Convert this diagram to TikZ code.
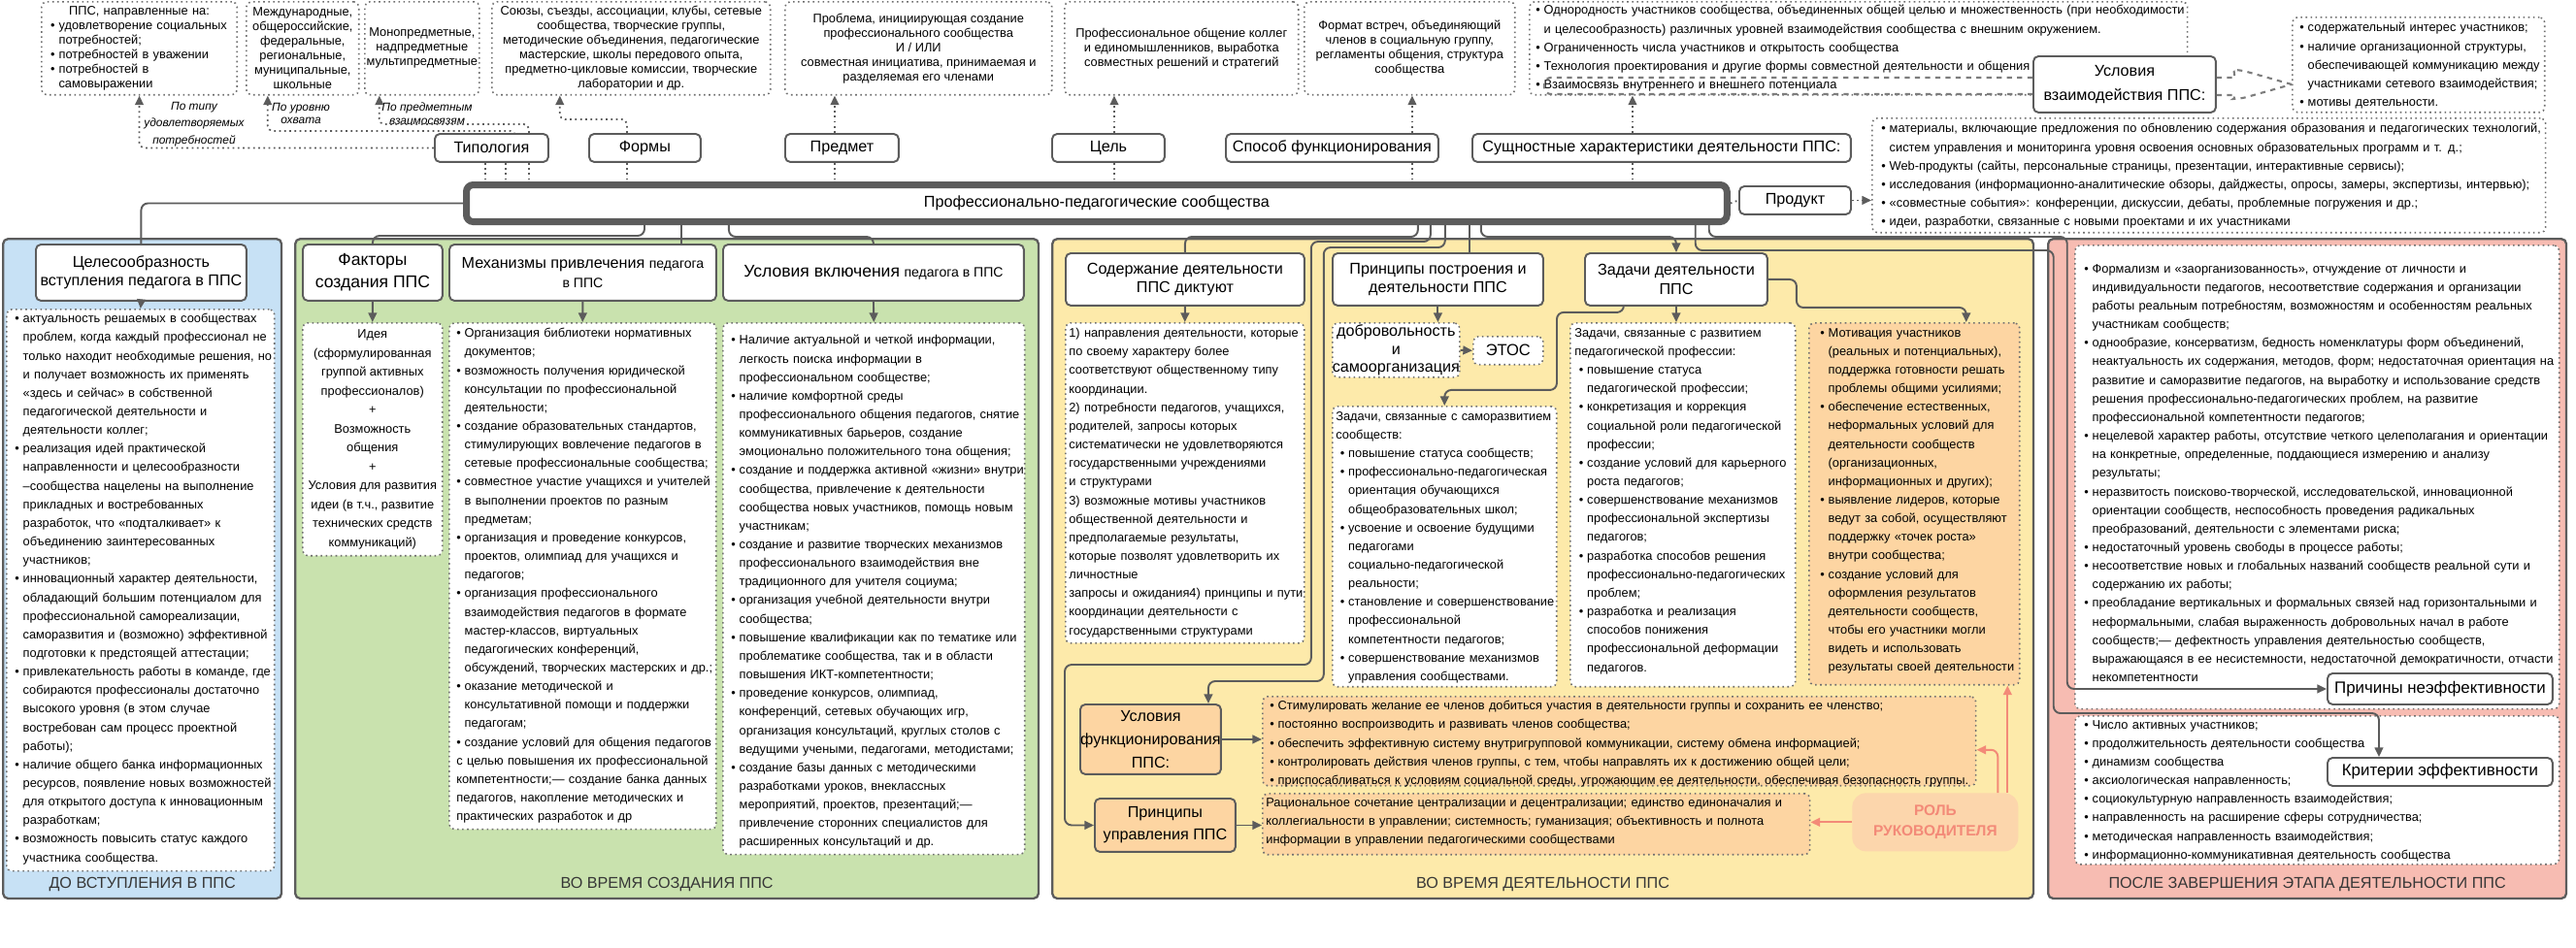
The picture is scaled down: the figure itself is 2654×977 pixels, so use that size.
\documentclass[tikz,border=0pt]{standalone}
\usepackage{fontspec}
\setmainfont{Liberation Sans}
\usetikzlibrary{arrows.meta, positioning}

\definecolor{edge}{RGB}{92,92,92}
\definecolor{dotedge}{RGB}{112,112,112}
\definecolor{bluebg}{RGB}{199,225,245}
\definecolor{greenbg}{RGB}{201,226,174}
\definecolor{yellowbg}{RGB}{253,234,170}
\definecolor{pinkbg}{RGB}{247,188,178}
\definecolor{orangebg}{RGB}{253,213,162}
\definecolor{rolebg}{RGB}{252,214,172}
\definecolor{rolered}{RGB}{243,138,120}
\definecolor{captext}{RGB}{55,55,55}

\newcommand{\lstfont}{\fontsize{7.3}{10.9}\selectfont}
\newcommand{\topfont}{\fontsize{7.3}{8.5}\selectfont}
\newcommand{\hdfont}{\fontsize{9.2}{11}\selectfont}
\newcommand{\bigfont}{\fontsize{10}{13}\selectfont}
\newcommand{\smfont}{\fontsize{8}{11}\selectfont}
\newcommand{\bul}{\makebox[0.65em][l]{•}}
\newcommand{\hng}{\hspace*{0.65em}}
\newcommand{\ibul}{\hspace*{0.35em}\bul}
\newcommand{\ihng}{\hspace*{1em}}
\setlength{\parindent}{0pt}

\tikzset{
  panel/.style={draw=edge, line width=1.3pt, rounded corners=3pt, anchor=north west, inner sep=0pt},
  hdbox/.style={draw=edge, line width=1.1pt, fill=white, rounded corners=3pt,
    anchor=north west, align=center, inner sep=1pt, font=\hdfont},
  topbox/.style={draw=dotedge, dotted, line width=0.9pt, fill=white, rounded corners=3pt,
    anchor=north west, align=center, inner sep=1pt, font=\topfont},
  lstbox/.style={draw=dotedge, dotted, line width=0.9pt, fill=white, rounded corners=3pt,
    anchor=north west, inner sep=0pt},
  lsttext/.style={anchor=north west, inner sep=0pt, align=left, font=\lstfont},
  caption/.style={font=\hdfont, text=captext, inner sep=0pt},
  hint/.style={font=\fontsize{6.8}{9.9}\selectfont\itshape, align=center, inner sep=0pt},
  link/.style={draw=edge, line width=1.1pt, rounded corners=4pt},
  arr/.style={link, -{Triangle[length=5.5pt, width=5pt]}},
  dotlink/.style={draw=edge, dotted, line width=1pt, rounded corners=3pt},
  dotarr/.style={dotlink, -{Triangle[length=5.5pt, width=5pt]}},
  dashlink/.style={draw=edge!80, dashed, line width=1.2pt, rounded corners=4pt},
  rolearr/.style={draw=rolered, line width=1.1pt, rounded corners=4pt, -{Triangle[length=5.5pt, width=5pt]}}
}

\begin{document}
\begin{tikzpicture}[x=0.02cm, y=-0.02cm]
  \useasboundingbox (0,0) rectangle (2654,977);

  % Этапы (фон)
  \node[panel, fill=bluebg, minimum width=5.74cm, minimum height=13.6cm] (stage1) at (2,245) {};
  \node[panel, fill=greenbg, minimum width=15.32cm, minimum height=13.6cm] (stage2) at (303,245) {};
  \node[panel, fill=yellowbg, minimum width=20.22cm, minimum height=13.6cm] (stage3) at (1083,245) {};
  \node[panel, fill=pinkbg, minimum width=10.68cm, minimum height=13.6cm] (stage4) at (2109,245) {};
  \node[caption, above=0.17cm of stage1.south] (cap1) {ДО ВСТУПЛЕНИЯ В ППС};
  \node[caption, above=0.17cm of stage2.south] (cap2) {ВО ВРЕМЯ СОЗДАНИЯ ППС};
  \node[caption, above=0.17cm of stage3.south] (cap3) {ВО ВРЕМЯ ДЕЯТЕЛЬНОСТИ ППС};
  \node[caption, above=0.17cm of stage4.south] (cap4) {ПОСЛЕ ЗАВЕРШЕНИЯ ЭТАПА ДЕЯТЕЛЬНОСТИ ППС};

  % Верхний ряд
  \node[topbox, align=left, text width=3.96cm, minimum height=1.92cm] (need) at (42,1)
    {\makebox[\hsize][c]{ППС, направленные на:}\\
     \hspace*{0.6em}\bul удовлетворение социальных\\
     \hspace*{1.25em}потребностей;\\
     \hspace*{0.6em}\bul потребностей в уважении\\
     \hspace*{0.6em}\bul потребностей в\\
     \hspace*{1.25em}самовыражении};
  \node[topbox, minimum width=2.32cm, minimum height=1.92cm] (reach) at (253,1)
    {Международные,\\общероссийские,\\федеральные,\\региональные,\\муниципальные,\\школьные};
  \node[topbox, minimum width=2.34cm, minimum height=1.92cm] (links) at (375,1)
    {Монопредметные,\\надпредметные\\мультипредметные};
  \node[topbox, minimum width=5.74cm, minimum height=1.92cm] (formlist) at (506,1)
    {Союзы, съезды, ассоциации, клубы, сетевые\\сообщества, творческие группы,\\методические объединения, педагогические\\мастерские, школы передового опыта,\\предметно-цикловые комиссии, творческие\\лаборатории и др.};
  \node[topbox, minimum width=5.5cm, minimum height=1.92cm] (problem) at (808,1)
    {Проблема, инициирующая создание\\профессионального сообщества\\И / ИЛИ\\совместная инициатива, принимаемая и\\разделяемая его членами};
  \node[topbox, minimum width=4.82cm, minimum height=1.92cm] (purpose) at (1096,1)
    {Профессиональное общение коллег\\и единомышленников, выработка\\совместных решений и стратегий};
  \node[topbox, minimum width=4.34cm, minimum height=1.92cm] (format) at (1343,1)
    {Формат встреч, объединяющий\\членов в социальную группу,\\регламенты общения, структура\\сообщества};
  \node[lstbox, minimum width=13.56cm, minimum height=1.92cm] (essence) at (1575,1) {};
  \node[lsttext, text width=13.6cm] (essenceT) at ([shift={(7,4)}]essence.north west)
    {\bul Однородность участников сообщества, объединенных общей целью и множественность (при необходимости\\
     \hng и целесообразность) различных уровней взаимодействия сообщества с внешним окружением.\\
     \bul Ограниченность числа участников и открытость сообщества\\
     \bul Технология проектирования и другие формы совместной деятельности и общения\\
     \bul Взаимосвязь внутреннего и внешнего потенциала};
  \node[hdbox, font=\fontsize{9.2}{14}\selectfont, minimum width=3.76cm, minimum height=1.16cm] (interact) at (2094,57)
    {Условия\\взаимодействия ППС:};
  \node[lstbox, minimum width=5.2cm, minimum height=1.96cm] (intlist) at (2361,17) {};
  \node[lsttext, text width=5.3cm] (intlistT) at ([shift={(8,6)}]intlist.north west)
    {\bul содержательный интерес участников;\\
     \bul наличие организационной структуры,\\
     \hng обеспечивающей коммуникацию между\\
     \hng участниками сетевого взаимодействия;\\
     \bul мотивы деятельности.};

  % Подписи-признаки
  \node[hdbox, minimum width=2.34cm, minimum height=0.58cm] (typ) at (447,137) {Типология};
  \node[hdbox, minimum width=2.3cm, minimum height=0.58cm] (form) at (606,137) {Формы};
  \node[hdbox, minimum width=2.34cm, minimum height=0.58cm] (subj) at (808,137) {Предмет};
  \node[hdbox, minimum width=2.32cm, minimum height=0.58cm] (goal) at (1083,137) {Цель};
  \node[hdbox, minimum width=4.38cm, minimum height=0.58cm] (way) at (1262,137) {Способ функционирования};
  \node[hdbox, minimum width=7.8cm, minimum height=0.58cm] (feat) at (1516,137) {Сущностные характеристики деятельности ППС:};
  \node[hint] (hint1) at (200,128) {По типу\\удовлетворяемых\\потребностей};
  \node[hint, font=\fontsize{6.8}{7.9}\selectfont\itshape] (hint2) at (310,117) {По уровню\\охвата};
  \node[hint, font=\fontsize{6.8}{7.9}\selectfont\itshape] (hint3) at (440,117) {По предметным\\взаимосвязям};

  % Центр и продукт
  \node[draw=edge, line width=4pt, fill=white, rounded corners=4pt, anchor=north west,
    minimum width=25.98cm, minimum height=0.76cm, font=\hdfont] (pps) at (477,187)
    {Профессионально-педагогические сообщества};
  \node[hdbox, minimum width=2.3cm, minimum height=0.58cm] (prod) at (1791,191) {Продукт};
  \node[lstbox, minimum width=13.88cm, minimum height=2.36cm] (prodlist) at (1928,121) {};
  \node[lsttext, text width=13.9cm] (prodlistT) at ([shift={(10,6)}]prodlist.north west)
    {\bul материалы, включающие предложения по обновлению содержания образования и педагогических технологий,\\
     \hng систем управления и мониторинга уровня освоения основных образовательных программ и т. д.;\\
     \bul Web-продукты (сайты, персональные страницы, презентации, интерактивные сервисы);\\
     \bul исследования (информационно-аналитические обзоры, дайджесты, опросы, замеры, экспертизы, интервью);\\
     \bul «совместные события»: конференции, дискуссии, дебаты, проблемные погружения и др.;\\
     \bul идеи, разработки, связанные с новыми проектами и их участниками};

  % До вступления
  \node[hdbox, minimum width=4.34cm, minimum height=1.16cm] (aim) at (36,251)
    {Целесообразность\\вступления педагога в ППС};
  \node[lstbox, minimum width=5.52cm, minimum height=11.58cm] (aimlist) at (6,318) {};
  \node[lsttext, text width=5.6cm] (aimlistT) at ([shift={(9,5)}]aimlist.north west)
    {\bul актуальность решаемых в сообществах\\
     \hng проблем, когда каждый профессионал не\\
     \hng только находит необходимые решения, но\\
     \hng и получает возможность их применять\\
     \hng «здесь и сейчас» в собственной\\
     \hng педагогической деятельности и\\
     \hng деятельности коллег;\\
     \bul реализация идей практической\\
     \hng направленности и целесообразности\\
     \hng –сообщества нацелены на выполнение\\
     \hng прикладных и востребованных\\
     \hng разработок, что «подталкивает» к\\
     \hng объединению заинтересованных\\
     \hng участников;\\
     \bul инновационный характер деятельности,\\
     \hng обладающий большим потенциалом для\\
     \hng профессиональной самореализации,\\
     \hng саморазвития и (возможно) эффективной\\
     \hng подготовки к предстоящей аттестации;\\
     \bul привлекательность работы в команде, где\\
     \hng собираются профессионалы достаточно\\
     \hng высокого уровня (в этом случае\\
     \hng востребован сам процесс проектной\\
     \hng работы);\\
     \bul наличие общего банка информационных\\
     \hng ресурсов, появление новых возможностей\\
     \hng для открытого доступа к инновационным\\
     \hng разработкам;\\
     \bul возможность повысить статус каждого\\
     \hng участника сообщества.};

  % Во время создания
  \node[hdbox, font=\bigfont, minimum width=2.88cm, minimum height=1.16cm] (factor) at (311,251)
    {Факторы\\создания ППС};
  \node[hdbox, minimum width=5.5cm, minimum height=1.16cm] (mech) at (462,251)
    {Механизмы привлечения {\smfont педагога}\\{\smfont в ППС}};
  \node[hdbox, minimum width=6.2cm, minimum height=1.16cm] (incl) at (744,251)
    {{\bigfont Условия включения} {\smfont педагога в ППС}};
  \node[topbox, font=\fontsize{7.3}{11.1}\selectfont, minimum width=2.88cm, minimum height=4.8cm] (idea) at (311,332)
    {Идея\\(сформулированная\\группой активных\\профессионалов)\\+\\Возможность\\общения\\+\\Условия для развития\\идеи (в т.ч., развитие\\технических средств\\коммуникаций)};
  \node[lstbox, minimum width=5.5cm, minimum height=10.44cm] (mechlist) at (462,332) {};
  \node[lsttext, text width=5.6cm] (mechlistT) at ([shift={(8,6)}]mechlist.north west)
    {\bul Организация библиотеки нормативных\\
     \hng документов;\\
     \bul возможность получения юридической\\
     \hng консультации по профессиональной\\
     \hng деятельности;\\
     \bul создание образовательных стандартов,\\
     \hng стимулирующих вовлечение педагогов в\\
     \hng сетевые профессиональные сообщества;\\
     \bul совместное участие учащихся и учителей\\
     \hng в выполнении проектов по разным\\
     \hng предметам;\\
     \bul организация и проведение конкурсов,\\
     \hng проектов, олимпиад для учащихся и\\
     \hng педагогов;\\
     \bul организация профессионального\\
     \hng взаимодействия педагогов в формате\\
     \hng мастер-классов, виртуальных\\
     \hng педагогических конференций,\\
     \hng обсуждений, творческих мастерских и др.;\\
     \bul оказание методической и\\
     \hng консультативной помощи и поддержки\\
     \hng педагогам;\\
     \bul создание условий для общения педагогов\\
     с целью повышения их профессиональной\\
     компетентности;— создание банка данных\\
     педагогов, накопление методических и\\
     практических разработок и др};
  \node[lstbox, minimum width=6.22cm, minimum height=10.96cm] (incllist) at (744,332) {};
  \node[lsttext, text width=6.3cm] (incllistT) at ([shift={(9,13)}]incllist.north west)
    {\bul Наличие актуальной и четкой информации,\\
     \hng легкость поиска информации в\\
     \hng профессиональном сообществе;\\
     \bul наличие комфортной среды\\
     \hng профессионального общения педагогов, снятие\\
     \hng коммуникативных барьеров, создание\\
     \hng эмоционально положительного тона общения;\\
     \bul создание и поддержка активной «жизни» внутри\\
     \hng сообщества, привлечение к деятельности\\
     \hng сообщества новых участников, помощь новым\\
     \hng участникам;\\
     \bul создание и развитие творческих механизмов\\
     \hng профессионального взаимодействия вне\\
     \hng традиционного для учителя социума;\\
     \bul организация учебной деятельности внутри\\
     \hng сообщества;\\
     \bul повышение квалификации как по тематике или\\
     \hng проблематике сообщества, так и в области\\
     \hng повышения ИКТ-компетентности;\\
     \bul проведение конкурсов, олимпиад,\\
     \hng конференций, сетевых обучающих игр,\\
     \hng организация консультаций, круглых столов с\\
     \hng ведущими учеными, педагогами, методистами;\\
     \bul создание базы данных с методическими\\
     \hng разработками уроков, внеклассных\\
     \hng мероприятий, проектов, презентаций;—\\
     \hng привлечение сторонних специалистов для\\
     \hng расширенных консультаций и др.};

  % Во время деятельности
  \node[hdbox, minimum width=4.92cm, minimum height=1.08cm] (sod) at (1097,260)
    {Содержание деятельности\\ППС диктуют};
  \node[lstbox, minimum width=4.92cm, minimum height=6.6cm] (sodlist) at (1097,332) {};
  \node[lsttext, text width=5cm] (sodlistT) at ([shift={(4,6)}]sodlist.north west)
    {1) направления деятельности, которые\\
     по своему характеру более\\
     соответствуют общественному типу\\
     координации.\\
     2) потребности педагогов, учащихся,\\
     родителей, запросы которых\\
     систематически не удовлетворяются\\
     государственными учреждениями\\
     и структурами\\
     3) возможные мотивы участников\\
     общественной деятельности и\\
     предполагаемые результаты,\\
     которые позволят удовлетворить их\\
     личностные\\
     запросы и ожидания4) принципы и пути\\
     координации деятельности с\\
     государственными структурами};
  \node[hdbox, minimum width=4.34cm, minimum height=1.08cm] (pb) at (1372,260)
    {Принципы построения и\\деятельности ППС};
  \node[topbox, font=\fontsize{9.2}{10.5}\selectfont, inner sep=0pt, minimum width=2.6cm, minimum height=1.12cm] (dob) at (1372,332)
    {добровольность\\и\\самоорганизация};
  \node[topbox, font=\fontsize{9.4}{11}\selectfont, minimum width=1.44cm, minimum height=0.58cm] (etos) at (1517,346) {ЭТОС};
  \node[lstbox, minimum width=4.62cm, minimum height=5.78cm] (self) at (1372,418) {};
  \node[lsttext, text width=4.7cm] (selfT) at ([shift={(4,6)}]self.north west)
    {Задачи, связанные с саморазвитием\\
     сообществ:\\
     \ibul повышение статуса сообществ;\\
     \ibul профессионально-педагогическая\\
     \ihng ориентация обучающихся\\
     \ihng общеобразовательных школ;\\
     \ibul усвоение и освоение будущими\\
     \ihng педагогами\\
     \ihng социально-педагогической\\
     \ihng реальности;\\
     \ibul становление и совершенствование\\
     \ihng профессиональной\\
     \ihng компетентности педагогов;\\
     \ibul совершенствование механизмов\\
     \ihng управления сообществами.};
  \node[hdbox, minimum width=3.76cm, minimum height=1.08cm] (zd) at (1632,260)
    {Задачи деятельности\\ППС};
  \node[lstbox, minimum width=4.64cm, minimum height=7.5cm] (tasks) at (1617,332) {};
  \node[lsttext, text width=4.7cm] (tasksT) at ([shift={(5,6)}]tasks.north west)
    {Задачи, связанные с развитием\\
     педагогической профессии:\\
     \ibul повышение статуса\\
     \ihng педагогической профессии;\\
     \ibul конкретизация и коррекция\\
     \ihng социальной роли педагогической\\
     \ihng профессии;\\
     \ibul создание условий для карьерного\\
     \ihng роста педагогов;\\
     \ibul совершенствование механизмов\\
     \ihng профессиональной экспертизы\\
     \ihng педагогов;\\
     \ibul разработка способов решения\\
     \ihng профессионально-педагогических\\
     \ihng проблем;\\
     \ibul разработка и реализация\\
     \ihng способов понижения\\
     \ihng профессиональной деформации\\
     \ihng педагогов.};
  \node[lstbox, fill=orangebg, minimum width=4.34cm, minimum height=7.46cm] (mot) at (1863,332) {};
  \node[lsttext, text width=4.4cm] (motT) at ([shift={(12,6)}]mot.north west)
    {\bul Мотивация участников\\
     \hng (реальных и потенциальных),\\
     \hng поддержка готовности решать\\
     \hng проблемы общими усилиями;\\
     \bul обеспечение естественных,\\
     \hng неформальных условий для\\
     \hng деятельности сообществ\\
     \hng (организационных,\\
     \hng информационных и других);\\
     \bul выявление лидеров, которые\\
     \hng ведут за собой, осуществляют\\
     \hng поддержку «точек роста»\\
     \hng внутри сообщества;\\
     \bul создание условий для\\
     \hng оформления результатов\\
     \hng деятельности сообществ,\\
     \hng чтобы его участники могли\\
     \hng видеть и использовать\\
     \hng результаты своей деятельности};
  \node[hdbox, fill=orangebg, inner sep=0pt, font=\fontsize{9.2}{13.6}\selectfont, minimum width=2.9cm, minimum height=1.44cm] (usf) at (1112,725)
    {Условия\\функционирования\\ППС:};
  \node[hdbox, fill=orangebg, font=\fontsize{9.2}{13}\selectfont, minimum width=2.9cm, minimum height=1.1cm] (pru) at (1127,822)
    {Принципы\\управления ППС};
  \node[lstbox, fill=orangebg, minimum width=14.7cm, minimum height=1.84cm] (l1) at (1300,717) {};
  \node[lsttext, text width=14.8cm] (l1T) at ([shift={(8,5)}]l1.north west)
    {\bul Стимулировать желание ее членов добиться участия в деятельности группы и сохранить ее членство;\\
     \bul постоянно воспроизводить и развивать членов сообщества;\\
     \bul обеспечить эффективную систему внутригрупповой коммуникации, систему обмена информацией;\\
     \bul контролировать действия членов группы, с тем, чтобы направлять их к достижению общей цели;\\
     \bul приспосабливаться к условиям социальной среды, угрожающим ее деятельности, обеспечивая безопасность группы.};
  \node[lstbox, fill=orangebg, minimum width=11.28cm, minimum height=1.26cm] (l2) at (1300,817) {};
  \node[lsttext, text width=11.3cm] (l2T) at ([shift={(4,5)}]l2.north west)
    {Рациональное сочетание централизации и децентрализации; единство единоначалия и\\
     коллегиальности в управлении; системность; гуманизация; объективность и полнота\\
     информации в управлении педагогическими сообществами};
  \node[fill=rolebg, rounded corners=8pt, anchor=north west, align=center, text=rolered,
    font=\fontsize{8.8}{12}\selectfont\bfseries, minimum width=3.42cm, minimum height=1.2cm] (role) at (1908,817)
    {РОЛЬ\\РУКОВОДИТЕЛЯ};

  % После завершения
  \node[lstbox, minimum width=9.98cm, minimum height=9.56cm] (ineff) at (2137,252) {};
  \node[lsttext, text width=10cm] (ineffT) at ([shift={(10,20)}]ineff.north west)
    {\bul Формализм и «заорганизованность», отчуждение от личности и\\
     \hng индивидуальности педагогов, несоответствие содержания и организации\\
     \hng работы реальным потребностям, возможностям и особенностям реальных\\
     \hng участникам сообществ;\\
     \bul однообразие, консерватизм, бедность номенклатуры форм объединений,\\
     \hng неактуальность их содержания, методов, форм; недостаточная ориентация на\\
     \hng развитие и саморазвитие педагогов, на выработку и использование средств\\
     \hng решения профессионально-педагогических проблем, на развитие\\
     \hng профессиональной компетентности педагогов;\\
     \bul нецелевой характер работы, отсутствие четкого целеполагания и ориентации\\
     \hng на конкретные, определенные, поддающиеся измерению и анализу\\
     \hng результаты;\\
     \bul неразвитость поисково-творческой, исследовательской, инновационной\\
     \hng ориентации сообществ, неспособность проведения радикальных\\
     \hng преобразований, деятельности с элементами риска;\\
     \bul недостаточный уровень свободы в процессе работы;\\
     \bul несоответствие новых и глобальных названий сообществ реальной сути и\\
     \hng содержанию их работы;\\
     \bul преобладание вертикальных и формальных связей над горизонтальными и\\
     \hng неформальными, слабая выраженность добровольных начал в работе\\
     \hng сообществ;— дефектность управления деятельностью сообществ,\\
     \hng выражающаяся в ее несистемности, недостаточной демократичности, отчасти\\
     \hng некомпетентности};
  \node[hdbox, font=\fontsize{9.6}{11}\selectfont, minimum width=4.64cm, minimum height=0.64cm] (prich) at (2397,693) {Причины неэффективности};
  \node[lstbox, minimum width=9.98cm, minimum height=3.06cm] (crit) at (2137,737) {};
  \node[lsttext, text width=10cm] (critT) at ([shift={(10,5)}]crit.north west)
    {\bul Число активных участников;\\
     \bul продолжительность деятельности сообщества\\
     \bul динамизм сообщества\\
     \bul аксиологическая направленность;\\
     \bul социокультурную направленность взаимодействия;\\
     \bul направленность на расширение сферы сотрудничества;\\
     \bul методическая направленность взаимодействия;\\
     \bul информационно-коммуникативная деятельность сообщества};
  \node[hdbox, font=\fontsize{9.6}{11}\selectfont, minimum width=4.64cm, minimum height=0.58cm] (krit) at (2397,780) {Критерии эффективности};

  % Связи верхнего ряда
  \draw[dotarr] (typ.west) -| (need.south);
  \draw[dotarr] ([xshift=0.49cm]typ.north) -- ++(0,-2) -| ([xshift=-0.72cm]reach.south);
  \draw[dotarr] ([xshift=0.77cm]typ.north) -- ++(0,-9) -| ([xshift=-0.88cm]links.south);
  \foreach \dx in {-0.13,0.29,0.77}
    \draw[dotlink] ([xshift=\dx cm]typ.south) -- ++(0,21);
  \draw[dotarr] ([xshift=-0.37cm]form.north) -- ++(0,-14) -| ([xshift=-1.47cm]formlist.south);
  \draw[dotlink] ([xshift=-0.37cm]form.south) -- ++(0,21);
  \foreach \lbl/\boxname/\dx in {subj/problem/-0.15, goal/purpose/0.12, way/format/1.65, feat/essence/-0.6} {
    \coordinate (up) at ([xshift=\dx cm]\lbl.north);
    \coordinate (dn) at ([xshift=\dx cm]\lbl.south);
    \draw[dotarr] (up) -- (up |- \boxname.south);
    \draw[dotlink] (dn) -- (dn |- pps.north);
  }
  \coordinate (brA) at (1591,80);
  \coordinate (brB) at (1591,97);
  \draw[dashlink] (interact.west |- brA) -- (brA) -- (brB) -- (interact.west |- brB);
  \coordinate (meet) at (intlist.west |- interact.east);
  \draw[dashlink] ([yshift=0.14cm]interact.east) -- ++(12,0) to[out=0, in=180] ++(12,-8) -- (meet);
  \draw[dashlink] ([yshift=-0.22cm]interact.east) -- ++(12,0) to[out=0, in=180] ++(12,4) -- (meet);
  \draw[dotlink] (pps.east) -- (prod.west);
  \draw[dotarr] (prod.east) -- (prod.east -| prodlist.west);

  % Связи с этапами
  \draw[link] (pps.west) -| (aim.north);
  \draw[arr] (aim.south) -- (aimlist.north);
  \draw[link] ([xshift=3.74cm]pps.south west) -- ++(0,11) -| (factor.north);
  \coordinate (m1) at ([xshift=4.5cm]pps.south west);
  \draw[link] (m1) -- (m1 |- mech.north);
  \draw[link] ([xshift=5.48cm]pps.south west) -- ++(0,12) -| (incl.north);
  \draw[arr] (factor.south) -- (idea.north);
  \draw[arr] (mech.south) -- (mechlist.north);
  \draw[arr] (incl.south) -- (incllist.north);
  \draw[link] ([xshift=19.68cm]pps.south west) -- ++(0,12) -| (sod.north);
  \draw[arr] ([xshift=19.94cm]pps.south west) -- ++(0,17) -- ++(-123,0) -- ++(0,436) -| ([xshift=-0.6cm]pru.west) -- (pru.west);
  \draw[arr] ([xshift=20.24cm]pps.south west) -- ++(0,23) -- ++(-125,0) -- ++(0,447) -| ([xshift=1.19cm]usf.north);
  \coordinate (p1) at ([xshift=20.74cm]pps.south west);
  \draw[link] (p1) -- (p1 |- pb.north);
  \draw[arr] ([xshift=20.98cm]pps.south west) -- ++(0,12) -| (zd.north);
  \draw[arr] ([xshift=25.4cm]pps.south west) -- ++(0,26) -- ++(369,0) -- ++(0,477) -| ([xshift=-1.26cm]krit.north);
  \draw[arr] ([xshift=25.68cm]pps.south west) -- ++(0,12) -- ++(369,0) |- (prich.west);

  % Внутри деятельности
  \draw[arr] (sod.south) -- (sodlist.north);
  \coordinate (p2) at (pb.south);
  \draw[arr] (p2) -- (p2 |- dob.north);
  \draw[arr] (dob.east) -- (etos.west);
  \draw[arr] ([xshift=-1.08cm]zd.south) -- ++(0,6) -- ++(-69,0) -- ++(0,80) -| (self.north);
  \draw[arr] (zd.south) -- (zd.south |- tasks.north);
  \draw[arr] (zd.east) -- ++(29,0) -- ++(0,29) -| ([xshift=1.07cm]mot.north);
  \draw[arr] (usf.east) -- (usf.east -| l1.west);
  \draw[arr] (pru.east) -- (pru.east -| l2.west);
  \draw[rolearr] (role.west) -- (role.west -| l2.east);
  \coordinate (r1) at ([xshift=1.49cm]role.north);
  \draw[rolearr] (r1) -- (r1 |- mot.south);
  \draw[rolearr] ([xshift=1.29cm]role.north) |- ([yshift=-0.18cm]l1.east);
\end{tikzpicture}
\end{document}
